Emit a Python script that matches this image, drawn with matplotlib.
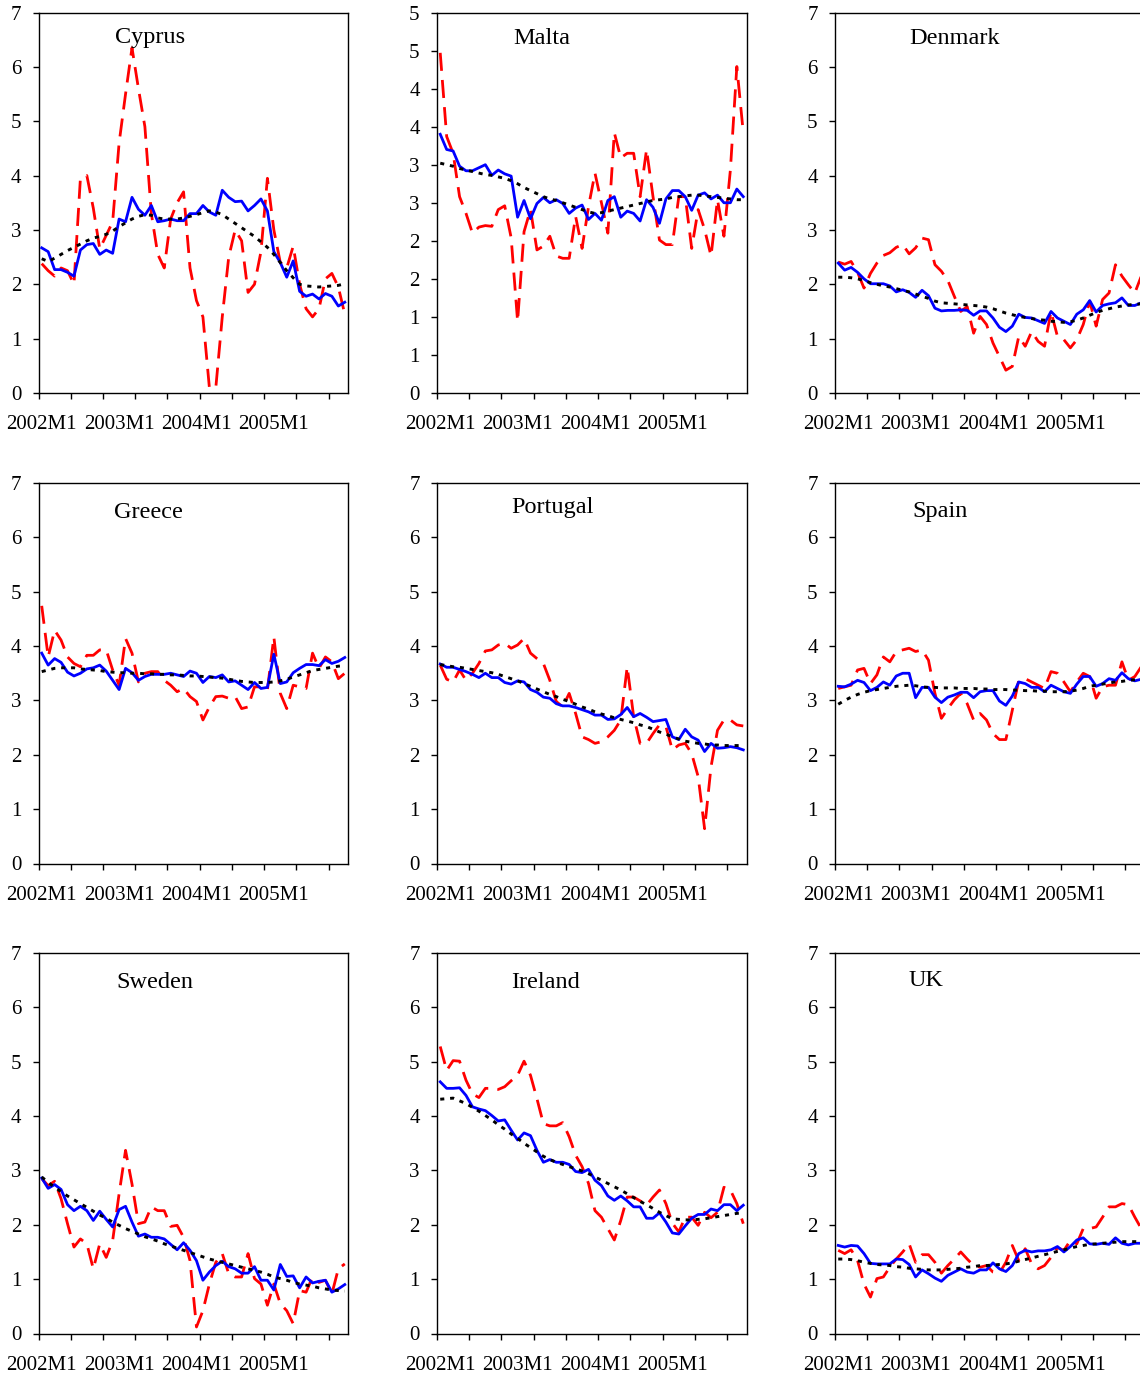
from matplotlib import pyplot as plt


# Месяцы 2002M1 ... 2005M12
months = list(range(48))
tick_labels = ['2002M1', '2003M1', '2004M1', '2005M1']

# Кипр
cyprus_red = [2.38, 2.25, 2.15, 2.3, 2.25, 2.0, 3.95, 4.0, 3.4, 2.65, 2.9, 3.15,
              4.6, 5.5, 6.35, 5.6, 4.9, 3.3, 2.55, 2.3, 3.2, 3.5, 3.7, 2.3,
              1.7, 1.4, 0.1, 0.1, 1.4, 2.5, 3.0, 2.8, 1.85, 2.0, 2.6, 3.95,
              3.0, 2.4, 2.3, 2.7, 2.0, 1.55, 1.4, 1.55, 2.1, 2.2, 1.95, 1.45]
cyprus_blue = [2.67, 2.6, 2.27, 2.27, 2.22, 2.15, 2.63, 2.73, 2.75, 2.55, 2.63, 2.57,
               3.2, 3.15, 3.6, 3.38, 3.27, 3.45, 3.15, 3.17, 3.2, 3.17, 3.17, 3.3,
               3.3, 3.45, 3.33, 3.27, 3.73, 3.6, 3.52, 3.53, 3.35, 3.45, 3.57, 3.35,
               2.6, 2.4, 2.13, 2.43, 1.87, 1.78, 1.82, 1.73, 1.83, 1.78, 1.6, 1.67]
cyprus_trend = [2.47, 2.42, 2.48, 2.55, 2.62, 2.68, 2.74, 2.8, 2.85, 2.88, 2.92, 2.98,
                3.06, 3.13, 3.2, 3.25, 3.28, 3.27, 3.22, 3.2, 3.2, 3.2, 3.22, 3.25,
                3.28, 3.32, 3.35, 3.33, 3.28, 3.2, 3.12, 3.04, 2.96, 2.88, 2.78, 2.68,
                2.55, 2.4, 2.25, 2.12, 2.0, 1.97, 1.96, 1.95, 1.96, 1.97, 1.98, 2.01]

# Мальта
malta_red = [4.47, 3.37, 3.15, 2.58, 2.36, 2.1, 2.18, 2.2, 2.19, 2.41, 2.46, 2.04,
             0.94, 2.12, 2.41, 1.88, 1.93, 2.06, 1.8, 1.77, 1.77, 2.32, 1.9, 2.45,
             2.89, 2.5, 2.1, 3.42, 3.09, 3.15, 3.15, 2.58, 3.2, 2.58, 2.01, 1.95,
             1.95, 2.58, 2.58, 1.9, 2.41, 2.15, 1.8, 2.54, 2.06, 2.93, 4.29, 3.42]
malta_blue = [3.4, 3.2, 3.18, 2.98, 2.92, 2.92, 2.96, 3.0, 2.86, 2.93, 2.88, 2.85,
              2.31, 2.53, 2.29, 2.49, 2.57, 2.5, 2.54, 2.49, 2.36, 2.43, 2.47, 2.28,
              2.36, 2.27, 2.53, 2.58, 2.31, 2.39, 2.36, 2.26, 2.54, 2.44, 2.23, 2.55,
              2.66, 2.66, 2.58, 2.4, 2.6, 2.63, 2.55, 2.6, 2.5, 2.5, 2.68, 2.58]
malta_trend = [3.02, 3.0, 2.98, 2.95, 2.93, 2.91, 2.89, 2.87, 2.86, 2.84, 2.82, 2.79,
               2.75, 2.7, 2.66, 2.62, 2.58, 2.55, 2.53, 2.5, 2.47, 2.44, 2.41, 2.38,
               2.36, 2.37, 2.39, 2.41, 2.43, 2.45, 2.47, 2.49, 2.51, 2.53, 2.54, 2.55,
               2.57, 2.58, 2.59, 2.6, 2.6, 2.59, 2.58, 2.57, 2.56, 2.55, 2.54, 2.54]

# Дания
denmark_red = [2.41, 2.37, 2.42, 2.22, 1.93, 2.2, 2.39, 2.53, 2.58, 2.68, 2.73, 2.56,
               2.67, 2.85, 2.82, 2.36, 2.24, 2.07, 1.78, 1.5, 1.59, 1.1, 1.41, 1.26,
               0.92, 0.67, 0.42, 0.49, 1.04, 0.86, 1.13, 0.95, 0.86, 1.5, 1.04, 0.98,
               0.83, 0.98, 1.26, 1.69, 1.23, 1.72, 1.84, 2.36, 2.15, 1.99, 1.84, 2.15]
denmark_blue = [2.39, 2.26, 2.31, 2.22, 2.1, 2.01, 2.01, 2.01, 1.97, 1.86, 1.9, 1.85,
                1.76, 1.89, 1.79, 1.56, 1.51, 1.52, 1.52, 1.53, 1.52, 1.43, 1.51, 1.51,
                1.38, 1.21, 1.13, 1.23, 1.45, 1.39, 1.38, 1.33, 1.28, 1.5, 1.38, 1.32,
                1.26, 1.45, 1.53, 1.7, 1.49, 1.61, 1.64, 1.66, 1.75, 1.61, 1.61, 1.66]
denmark_trend = [2.13, 2.13, 2.12, 2.1, 2.07, 2.03, 2.0, 1.97, 1.95, 1.92, 1.89, 1.86,
                 1.82, 1.78, 1.74, 1.69, 1.66, 1.65, 1.64, 1.63, 1.62, 1.61, 1.6, 1.58,
                 1.55, 1.51, 1.47, 1.44, 1.41, 1.39, 1.37, 1.35, 1.34, 1.32, 1.31, 1.3,
                 1.31, 1.34, 1.38, 1.43, 1.48, 1.52, 1.55, 1.58, 1.6, 1.62, 1.63, 1.64]

# Греция
greece_red = [4.74, 3.8, 4.29, 4.11, 3.8, 3.68, 3.62, 3.83, 3.83, 3.93, 3.93, 3.56,
              3.28, 4.14, 3.87, 3.34, 3.5, 3.53, 3.53, 3.37, 3.28, 3.16, 3.22, 3.07,
              2.98, 2.64, 2.88, 3.07, 3.08, 3.04, 3.07, 2.85, 2.88, 3.25, 3.25, 3.19,
              4.17, 3.13, 2.85, 3.28, 3.25, 3.22, 3.87, 3.59, 3.8, 3.71, 3.4, 3.5]
greece_blue = [3.87, 3.65, 3.77, 3.7, 3.52, 3.45, 3.5, 3.58, 3.6, 3.65, 3.54, 3.37,
               3.2, 3.59, 3.51, 3.37, 3.44, 3.48, 3.48, 3.48, 3.5, 3.47, 3.44, 3.54,
               3.5, 3.33, 3.44, 3.42, 3.47, 3.34, 3.36, 3.28, 3.2, 3.33, 3.22, 3.24,
               3.85, 3.31, 3.34, 3.51, 3.59, 3.66, 3.66, 3.64, 3.75, 3.68, 3.72, 3.79]
greece_trend = [3.53, 3.56, 3.59, 3.6, 3.6, 3.6, 3.58, 3.57, 3.56, 3.55, 3.53, 3.52,
                3.51, 3.51, 3.5, 3.5, 3.49, 3.49, 3.48, 3.48, 3.47, 3.47, 3.46, 3.45,
                3.45, 3.44, 3.43, 3.42, 3.41, 3.39, 3.37, 3.35, 3.34, 3.33, 3.33, 3.33,
                3.34, 3.36, 3.39, 3.43, 3.47, 3.51, 3.55, 3.57, 3.59, 3.61, 3.63, 3.64]

# Португалия
portugal_red = [3.65, 3.39, 3.34, 3.56, 3.37, 3.5, 3.68, 3.91, 3.93, 4.02, 4.05, 3.96,
                4.02, 4.14, 3.87, 3.77, 3.68, 3.37, 2.98, 2.88, 3.13, 2.76, 2.33, 2.28,
                2.21, 2.24, 2.33, 2.45, 2.64, 3.62, 2.7, 2.21, 2.21, 2.39, 2.55, 2.52,
                2.09, 2.18, 2.21, 2.02, 1.6, 0.64, 1.78, 2.45, 2.64, 2.64, 2.55, 2.53]
portugal_blue = [3.67, 3.61, 3.61, 3.57, 3.53, 3.48, 3.42, 3.5, 3.42, 3.42, 3.33, 3.3,
                 3.36, 3.34, 3.2, 3.15, 3.06, 3.04, 2.94, 2.9, 2.9, 2.87, 2.83, 2.79,
                 2.73, 2.73, 2.65, 2.66, 2.74, 2.87, 2.7, 2.76, 2.69, 2.61, 2.63, 2.65,
                 2.33, 2.28, 2.47, 2.33, 2.27, 2.06, 2.21, 2.12, 2.13, 2.15, 2.13, 2.09]
portugal_trend = [3.66, 3.64, 3.62, 3.61, 3.59, 3.57, 3.55, 3.53, 3.51, 3.48, 3.44, 3.4,
                  3.36, 3.31, 3.26, 3.21, 3.16, 3.11, 3.07, 3.02, 2.98, 2.93, 2.88, 2.84,
                  2.79, 2.75, 2.72, 2.68, 2.65, 2.62, 2.59, 2.55, 2.52, 2.47, 2.42, 2.38,
                  2.33, 2.29, 2.25, 2.23, 2.21, 2.2, 2.18, 2.18, 2.17, 2.17, 2.17, 2.17]

# Испания
spain_red = [3.22, 3.25, 3.28, 3.56, 3.59, 3.31, 3.47, 3.8, 3.71, 3.9, 3.93, 3.96,
             3.9, 3.93, 3.74, 3.13, 2.67, 2.85, 3.01, 3.13, 2.94, 2.64, 2.76, 2.64,
             2.39, 2.28, 2.28, 2.82, 3.37, 3.4, 3.34, 3.28, 3.22, 3.53, 3.5, 3.34,
             3.16, 3.34, 3.5, 3.44, 3.04, 3.25, 3.28, 3.28, 3.71, 3.37, 3.44, 3.62]
spain_blue = [3.26, 3.25, 3.3, 3.37, 3.33, 3.18, 3.24, 3.34, 3.28, 3.45, 3.5, 3.5,
              3.05, 3.24, 3.24, 3.06, 2.96, 3.06, 3.1, 3.15, 3.15, 3.05, 3.16, 3.18,
              3.18, 2.99, 2.91, 3.08, 3.34, 3.31, 3.24, 3.24, 3.16, 3.28, 3.22, 3.16,
              3.13, 3.3, 3.44, 3.44, 3.26, 3.31, 3.4, 3.37, 3.51, 3.4, 3.36, 3.39]
spain_trend = [2.93, 3.0, 3.06, 3.11, 3.15, 3.18, 3.2, 3.22, 3.24, 3.26, 3.27, 3.28,
               3.27, 3.25, 3.24, 3.24, 3.23, 3.23, 3.23, 3.22, 3.22, 3.22, 3.21, 3.21,
               3.2, 3.2, 3.2, 3.19, 3.19, 3.18, 3.18, 3.17, 3.17, 3.16, 3.16, 3.16,
               3.17, 3.19, 3.22, 3.26, 3.28, 3.3, 3.32, 3.34, 3.35, 3.37, 3.38, 3.39]

# Швеция
sweden_red = [2.85, 2.72, 2.8, 2.48, 2.02, 1.59, 1.74, 1.65, 1.19, 1.65, 1.4, 1.71,
              2.57, 3.37, 2.75, 2.02, 2.05, 2.33, 2.26, 2.26, 1.97, 1.99, 1.77, 1.34,
              0.12, 0.42, 0.91, 1.31, 1.47, 1.1, 1.04, 1.04, 1.47, 1.01, 0.91, 0.52,
              0.91, 0.55, 0.42, 0.18, 0.79, 0.76, 1.04, 0.94, 0.98, 0.73, 1.19, 1.28]
sweden_blue = [2.86, 2.67, 2.74, 2.65, 2.37, 2.26, 2.34, 2.26, 2.08, 2.25, 2.1, 1.96,
               2.28, 2.34, 2.05, 1.79, 1.83, 1.77, 1.77, 1.74, 1.64, 1.54, 1.67, 1.53,
               1.34, 0.98, 1.13, 1.25, 1.33, 1.23, 1.19, 1.11, 1.11, 1.23, 0.98, 0.98,
               0.8, 1.27, 1.05, 1.06, 0.84, 1.04, 0.93, 0.96, 0.98, 0.76, 0.82, 0.9]
sweden_trend = [2.88, 2.78, 2.69, 2.61, 2.53, 2.46, 2.39, 2.32, 2.25, 2.18, 2.12, 2.05,
                1.99, 1.93, 1.88, 1.83, 1.78, 1.74, 1.7, 1.65, 1.61, 1.57, 1.53, 1.49,
                1.45, 1.41, 1.37, 1.34, 1.31, 1.28, 1.25, 1.22, 1.19, 1.16, 1.13, 1.09,
                1.04, 1.01, 0.98, 0.94, 0.91, 0.89, 0.87, 0.84, 0.82, 0.8, 0.79, 0.78]

# Ирландия
ireland_red = [5.28, 4.84, 5.02, 5.01, 4.66, 4.41, 4.34, 4.51, 4.51, 4.49, 4.54, 4.65,
               4.75, 5.01, 4.75, 4.32, 3.86, 3.82, 3.82, 3.88, 3.62, 3.28, 3.07, 2.76,
               2.26, 2.14, 1.93, 1.72, 2.08, 2.51, 2.51, 2.44, 2.36, 2.51, 2.64, 2.39,
               2.03, 1.87, 2.14, 2.14, 1.99, 2.23, 2.13, 2.23, 2.69, 2.64, 2.39, 2.02]
ireland_blue = [4.63, 4.51, 4.51, 4.52, 4.38, 4.17, 4.13, 4.1, 4.01, 3.91, 3.93, 3.74,
                3.56, 3.69, 3.64, 3.37, 3.15, 3.2, 3.15, 3.15, 3.11, 2.98, 2.96, 3.02,
                2.82, 2.72, 2.53, 2.45, 2.53, 2.44, 2.33, 2.33, 2.12, 2.12, 2.22, 2.05,
                1.85, 1.83, 1.98, 2.12, 2.19, 2.19, 2.29, 2.26, 2.37, 2.37, 2.26, 2.36]
ireland_trend = [4.31, 4.32, 4.33, 4.28, 4.23, 4.16, 4.09, 4.01, 3.93, 3.84, 3.76, 3.67,
                 3.59, 3.5, 3.42, 3.34, 3.26, 3.2, 3.15, 3.11, 3.07, 3.03, 2.99, 2.94,
                 2.88, 2.82, 2.76, 2.7, 2.64, 2.57, 2.5, 2.43, 2.37, 2.3, 2.23, 2.17,
                 2.11, 2.1, 2.09, 2.09, 2.1, 2.11, 2.13, 2.15, 2.17, 2.19, 2.21, 2.22]

# Великобритания
uk_red = [1.53, 1.47, 1.54, 1.34, 0.91, 0.67, 1.01, 1.04, 1.22, 1.37, 1.5, 1.65,
          1.31, 1.45, 1.45, 1.31, 1.11, 1.25, 1.37, 1.5, 1.37, 1.25, 1.22, 1.25,
          1.13, 1.11, 1.31, 1.62, 1.34, 1.56, 1.28, 1.19, 1.25, 1.4, 1.58, 1.53,
          1.71, 1.65, 1.93, 1.93, 1.96, 2.14, 2.33, 2.33, 2.39, 2.37, 2.14, 1.93]
uk_blue = [1.62, 1.59, 1.62, 1.61, 1.47, 1.29, 1.28, 1.28, 1.28, 1.37, 1.36, 1.27,
           1.04, 1.17, 1.1, 1.02, 0.96, 1.07, 1.13, 1.19, 1.13, 1.11, 1.17, 1.17,
           1.3, 1.19, 1.14, 1.25, 1.47, 1.53, 1.5, 1.52, 1.52, 1.54, 1.6, 1.5,
           1.6, 1.72, 1.76, 1.65, 1.64, 1.66, 1.64, 1.76, 1.66, 1.63, 1.66, 1.66]
uk_trend = [1.37, 1.37, 1.36, 1.34, 1.31, 1.29, 1.27, 1.26, 1.25, 1.23, 1.22, 1.2,
            1.19, 1.18, 1.17, 1.17, 1.17, 1.18, 1.19, 1.2, 1.22, 1.23, 1.25, 1.25,
            1.26, 1.27, 1.28, 1.3, 1.33, 1.36, 1.39, 1.42, 1.45, 1.48, 1.51, 1.54,
            1.57, 1.6, 1.62, 1.64, 1.65, 1.66, 1.67, 1.68, 1.69, 1.69, 1.69, 1.69]

countries = ['Cyprus', 'Malta', 'Denmark', 'Greece', 'Portugal', 'Spain',
             'Sweden', 'Ireland', 'UK']
red_series = [cyprus_red, malta_red, denmark_red, greece_red, portugal_red,
              spain_red, sweden_red, ireland_red, uk_red]
blue_series = [cyprus_blue, malta_blue, denmark_blue, greece_blue, portugal_blue,
               spain_blue, sweden_blue, ireland_blue, uk_blue]
trend_series = [cyprus_trend, malta_trend, denmark_trend, greece_trend,
                portugal_trend, spain_trend, sweden_trend, ireland_trend, uk_trend]

# Центры подписей стран (пиксели)
title_pos = [(150, 38), (542, 39), (955, 39),
             (148, 512), (552, 508), (940, 511),
             (155, 983), (546, 983), (926, 981)]

W, H = 1140, 1375
col_left = [38.5, 437, 835]
row_top = [12.5, 483, 953]
ax_w, ax_h = 309.5, 380.5


def small_multiples():
    plt.rcParams['font.family'] = ['Liberation Serif', 'DejaVu Serif']
    fig = plt.figure(figsize=(W / 100, H / 100), dpi=100)

    for k, name in enumerate(countries):
        r, c = divmod(k, 3)
        ax = fig.add_axes([col_left[c] / W, 1 - (row_top[r] + ax_h) / H,
                           ax_w / W, ax_h / H])
        x = [m + 0.5 for m in months]

        ax.plot(x, red_series[k], color='#ff0000', lw=2.0,
                dashes=(6.5, 3.3), zorder=2)
        ax.plot(x, blue_series[k], color='#0000ff', lw=2.0, zorder=3)
        ax.plot(x, trend_series[k], color='black', lw=2.1,
                dashes=(1.4, 2.0), zorder=4)

        ax.set_xlim(0, 48)
        ax.set_xticks(range(0, 48, 5))
        ax.set_xticklabels([])
        ax.set_xticks([0.5, 12.5, 24.5, 36.5], minor=True)
        ax.set_xticklabels(tick_labels, minor=True)
        ax.tick_params(axis='x', which='major', direction='out', length=4.5,
                       width=1)
        ax.tick_params(axis='x', which='minor', length=0, pad=16,
                       labelsize=15)

        if name == 'Malta':
            ax.set_ylim(0, 5)
            yt = [i * 0.5 for i in range(11)]
            ax.set_yticks(yt)
            ax.set_yticklabels([str(int(v + 0.5)) for v in yt])
        else:
            ax.set_ylim(0, 7)
            ax.set_yticks(range(8))
        ax.tick_params(axis='y', direction='out', length=4.5, width=1,
                       pad=8, labelsize=15)

        for s in ax.spines.values():
            s.set_linewidth(1)
            s.set_color('black')

        tx, ty = title_pos[k]
        fig.text(tx / W, 1 - ty / H, name, ha='center', va='center',
                 fontsize=17.5)

    fig.savefig('out.png', dpi=100)


def main():
    small_multiples()


if __name__ == '__main__':
    main()
